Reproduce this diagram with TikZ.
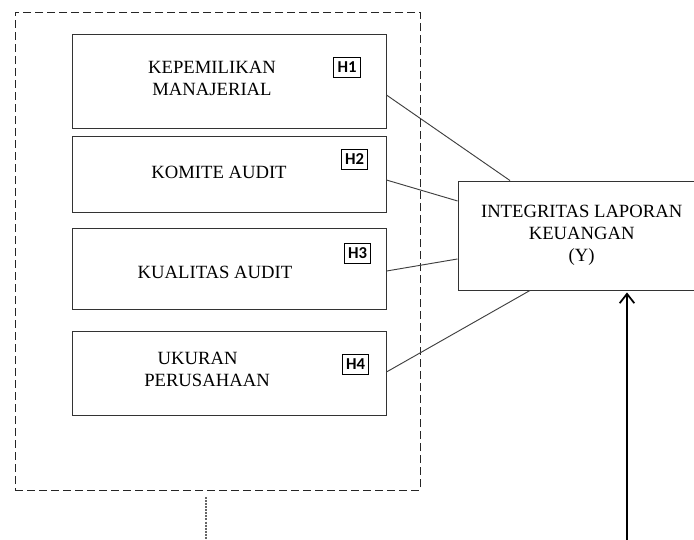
\documentclass[tikz,border=0pt]{standalone}
\usepackage{fontspec}
\setmainfont{Liberation Serif}
\newfontfamily\hfont{Carlito}
\usetikzlibrary{arrows.meta,calc}
\tikzset{
  varbox/.style={draw=black!80, line width=0.7pt, rectangle, inner sep=0pt, minimum width=235.5pt},
  grpbox/.style={draw=black!85, line width=0.7pt, dash pattern=on 6pt off 3pt, rectangle, inner sep=0pt},
  hbox/.style={draw=black, line width=0.7pt, rectangle, inner sep=0pt, minimum width=20pt, minimum height=15pt, font=\hfont\bfseries\fontsize{12.5}{12.5}\selectfont},
  vtext/.style={align=center, inner sep=0pt, font=\fontsize{14}{16.5}\selectfont},
  link/.style={draw=black!75, line width=0.7pt},
}
\begin{document}
\begin{tikzpicture}[x=0.75pt,y=-0.75pt]
\clip (0,0) rectangle (694,540);
\fill[white] (0,0) rectangle (694,540);
% group
\node[grpbox, minimum width=303.75pt, minimum height=358.5pt] (grp) at (217.5,251) {};
% variable boxes
\node[varbox, minimum height=70.5pt] (b1) at (229,81) {};
\node[varbox, minimum height=57pt] (b2) at (229,174) {};
\node[varbox, minimum height=60.75pt] (b3) at (229,268.5) {};
\node[varbox, minimum height=63pt] (b4) at (229,373) {};
% texts
\node[vtext] (t1) at (212,78) {KEPEMILIKAN\\MANAJERIAL};
\node[vtext] (t2) at (219,172) {KOMITE AUDIT};
\node[vtext] (t3) at (215,272) {KUALITAS AUDIT};
\node[vtext] (t4) at (207,369) {UKURAN\hspace*{14pt}\\PERUSAHAAN};
% H labels
\node[hbox] (h1) at (347,67) {H1};
\node[hbox] (h2) at (354.5,159) {H2};
\node[hbox] (h3) at (357.5,253) {H3};
\node[hbox] (h4) at (355.5,364) {H4};
% dependent
\node[varbox, minimum width=181.5pt, minimum height=81.75pt, vtext] (y) at (579,235.5) {\hspace*{4pt}INTEGRITAS LAPORAN\\\hspace*{4pt}KEUANGAN\\\hspace*{4pt}(Y)};
% links
\draw[link] ([yshift=-10.5pt]b1.east) -- ([xshift=-51.75pt]y.north);
\draw[link] ([yshift=-4.5pt]b2.east) -- ([yshift=25.9pt]y.west);
\draw[link] ([yshift=-1.9pt]b3.east) -- ([yshift=-17.6pt]y.west);
\draw[link] ([yshift=0.75pt]b4.east) -- ([xshift=-36.75pt]y.south);
% bottom connectors
\coordinate (d0) at (206,497);
\coordinate (d1) at (206,545);
\draw[draw=black!60, line width=0.8pt, dash pattern=on 1.5pt off 0.8pt] (d0) -- (d1);
\coordinate (a0) at (627,545);
\draw[line width=1.4pt, -{Straight Barb[length=7pt,width=11pt,line width=1.3pt]}] (a0) -- ([xshift=36pt,yshift=-1.5pt]y.south);
\end{tikzpicture}
\end{document}
